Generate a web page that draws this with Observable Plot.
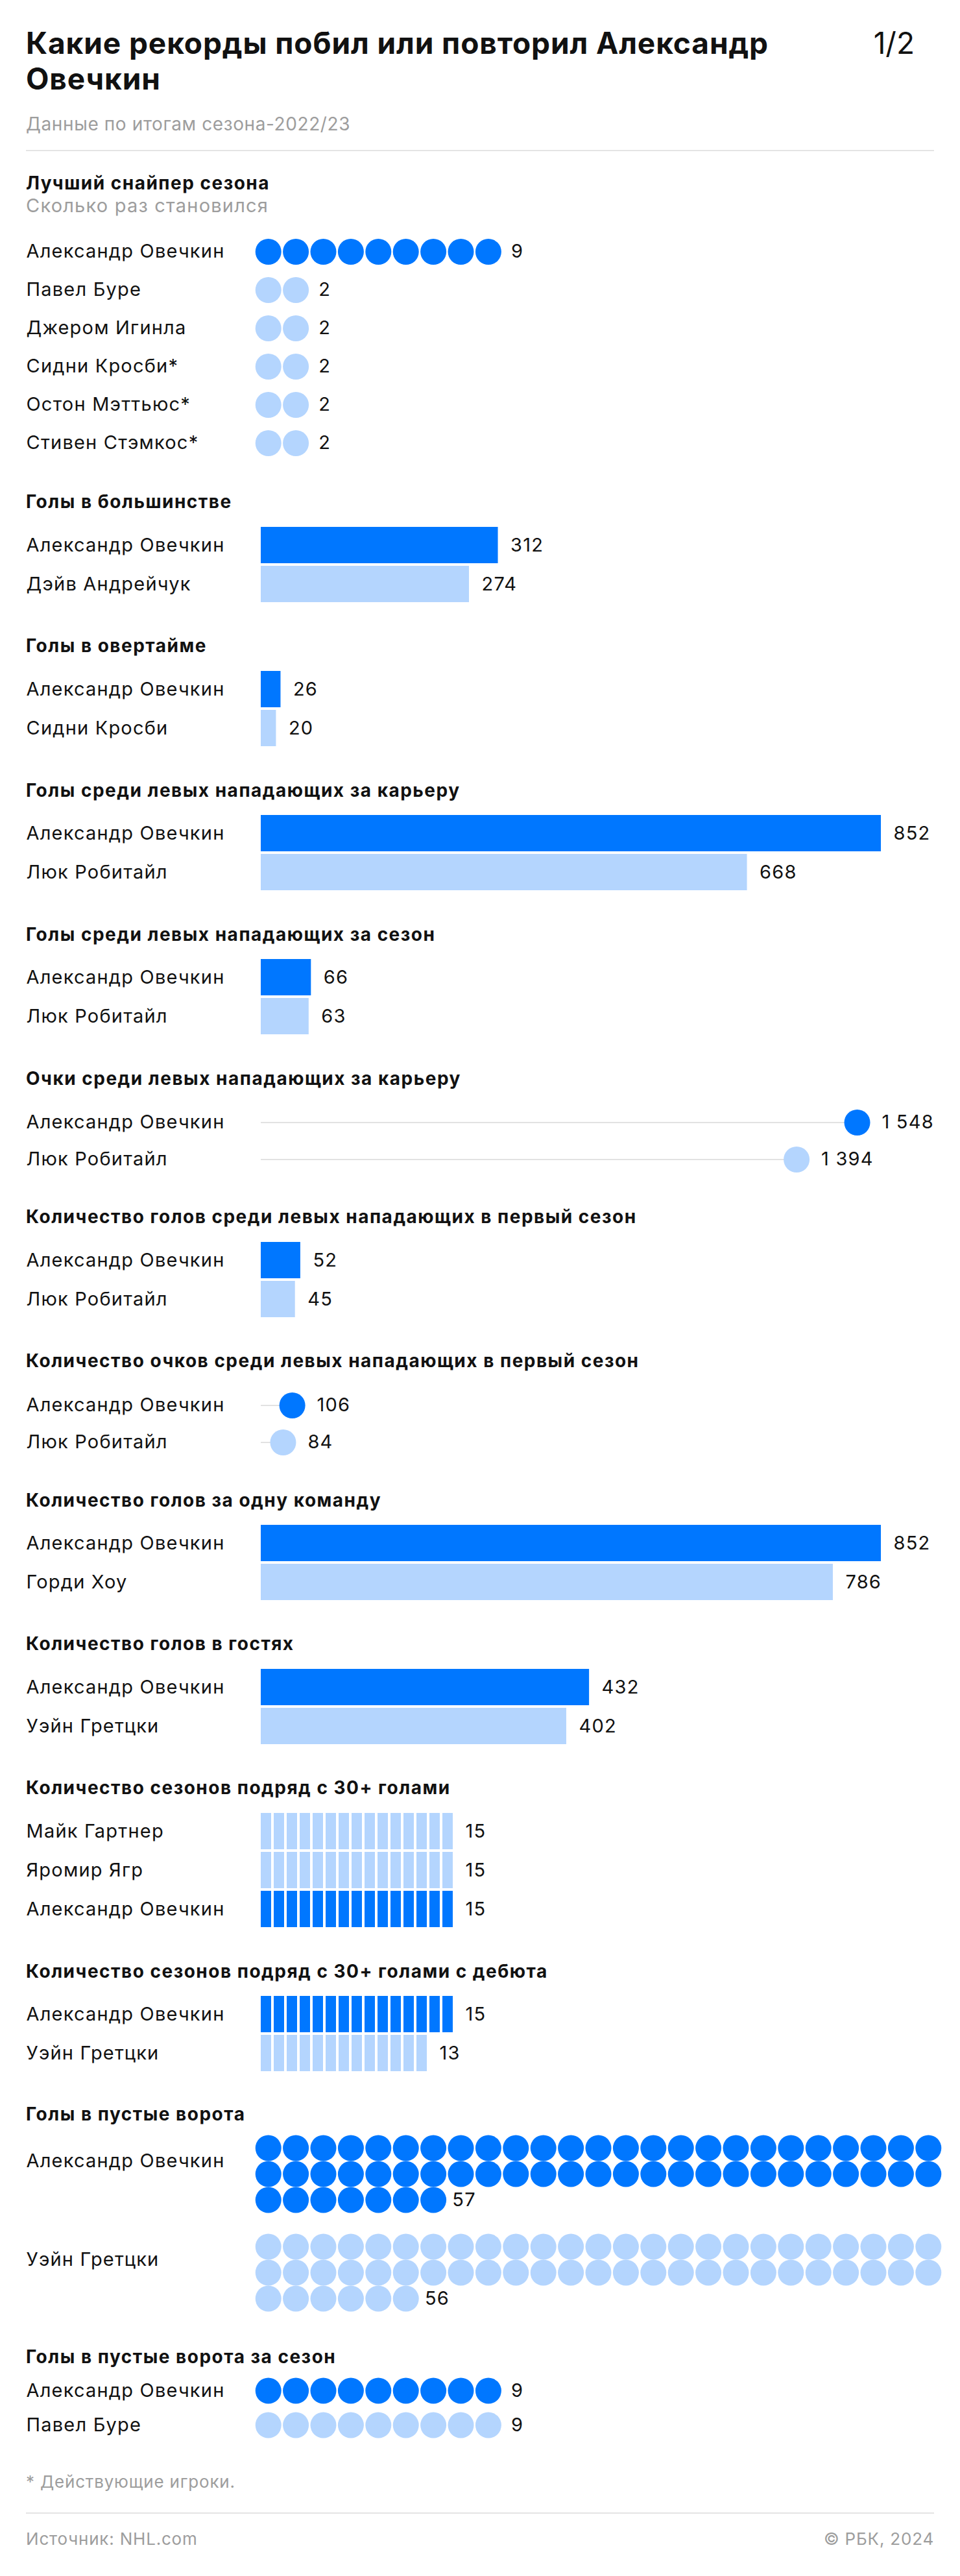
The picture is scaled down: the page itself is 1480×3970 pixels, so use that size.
<!DOCTYPE html>
<html>
<head>
<meta charset="utf-8">
<script src="https://cdn.jsdelivr.net/npm/d3@7"></script>
<script src="https://cdn.jsdelivr.net/npm/@observablehq/plot@0.6"></script>
<style>
  html, body { margin: 0; padding: 0; background: #fff; }
  #page { position: relative; width: 1480px; height: 3970px; overflow: hidden;
          font-family: Inter, "Noto Sans", sans-serif; color: #111; }
  .t { position: absolute; left: 40px; white-space: nowrap; line-height: 1; margin: 0; }
  .title { font-size: 46px; font-weight: 700; line-height: 55px; letter-spacing: 0.9px; }
  .pager { left: auto; right: 70px; font-size: 46px; font-weight: 400; line-height: 55px; }
  .gray { font-size: 28px; color: #9d9d9d; letter-spacing: 0.6px; }
  .gray2 { font-size: 29px; color: #9d9d9d; letter-spacing: 1.2px; }
  .head { font-size: 28px; font-weight: 700; letter-spacing: 1.5px; }
  .small { font-size: 26px; color: #9d9d9d; letter-spacing: 0.8px; }
  .rule { position: absolute; left: 40px; width: 1400px; height: 2px; background: #e4e4e4; }
  #page svg { position: absolute; left: 0; }
</style>
</head>
<body>
<div id="page"></div>
<script>
// ---------------- data ----------------
const HERO = "Александр Овечкин";

const sniperNames = ["Александр Овечкин", "Павел Буре", "Джером Игинла", "Сидни Кросби*", "Остон Мэттьюс*", "Стивен Стэмкос*"];
const sniperTimes = [9, 2, 2, 2, 2, 2];

const ppNames = ["Александр Овечкин", "Дэйв Андрейчук"];
const ppGoals = [312, 274];

const otNames = ["Александр Овечкин", "Сидни Кросби"];
const otGoals = [26, 20];

const lwNames = ["Александр Овечкин", "Люк Робитайл"];
const lwCareerGoals = [852, 668];
const lwSeasonGoals = [66, 63];
const lwCareerPoints = [1548, 1394];
const lwRookieGoals = [52, 45];
const lwRookiePoints = [106, 84];

const oneTeamNames = ["Александр Овечкин", "Горди Хоу"];
const oneTeamGoals = [852, 786];

const awayNames = ["Александр Овечкин", "Уэйн Гретцки"];
const awayGoals = [432, 402];

const streakNames = ["Майк Гартнер", "Яромир Ягр", "Александр Овечкин"];
const streakSeasons = [15, 15, 15];

const debutNames = ["Александр Овечкин", "Уэйн Гретцки"];
const debutSeasons = [15, 13];

const enNames = ["Александр Овечкин", "Уэйн Гретцки"];
const enGoals = [57, 56];

const enSeasonNames = ["Александр Овечкин", "Павел Буре"];
const enSeasonGoals = [9, 9];

// ---------------- style ----------------
const DARK = "#0077FF", LIGHT = "#B4D5FE", GRID = "#E2E2E2", INK = "#111";
const FONT = "Inter, 'Noto Sans', sans-serif";
const NAME_SIZE = 29;
const BAR_RANGE = [402, 1358];          // bar / lollipop x range
const DOT_RANGE = [392, 392 + 25 * 42.4]; // 25 unit dots per row
const SEG_RANGE = [402, 402 + 48 * 20];   // unit segments
const fmt = d3.formatLocale({decimal: ",", thousands: "\u00A0", grouping: [3], currency: ["", ""]}).format(",d");
const colorOf = d => d.name === HERO ? DARK : LIGHT;

const page = document.getElementById("page");

function text(str, cls, baseline, size, lineH) {
  const el = document.createElement("div");
  el.className = "t " + cls;
  el.textContent = str;
  const lh = lineH || size;
  // Inter metrics: ascent 0.96875, descent 0.2422
  const off = (lh - 1.2109 * size) / 2 + 0.96875 * size;
  el.style.top = (baseline - off) + "px";
  page.appendChild(el);
  return el;
}
function hr(y) {
  const el = document.createElement("div");
  el.className = "rule";
  el.style.top = (y - 1) + "px";
  page.appendChild(el);
}
function put(svg, top) { svg.style.top = top + "px"; page.appendChild(svg); }

function rowsOf(names, values) { return names.map((name, i) => ({name, value: values[i]})); }

function base(height, x, y, marks) {
  return Plot.plot({
    width: 1480, height, margin: 0,
    x: {...x, axis: null},
    y: {...y, axis: null},
    color: {type: "identity"},
    style: {fontFamily: FONT, background: "transparent", overflow: "visible", maxWidth: "none", letterSpacing: "1.2px"},
    marks
  });
}
const nameMark = (rows, extra = {}) => Plot.text(rows, {y: "name", text: "name", frameAnchor: "left", dx: 40,
  textAnchor: "start", fontSize: NAME_SIZE, fill: INK, ...extra});

// bar section
function barSection(names, values, domainMax, top) {
  const rows = rowsOf(names, values), n = rows.length;
  put(base(n * 60, {domain: [0, domainMax], range: BAR_RANGE},
    {type: "band", domain: names, range: [0, n * 60], paddingInner: 4 / 60, paddingOuter: 2 / 60}, [
      Plot.barX(rows, {x: "value", y: "name", fill: colorOf}),
      Plot.text(rows, {x: "value", y: "name", text: d => fmt(d.value), textAnchor: "start", dx: 19, fontSize: NAME_SIZE, fill: INK}),
      nameMark(rows)
    ]), top);
}
// lollipop section
function lollySection(names, values, domainMax, top) {
  const rows = rowsOf(names, values), n = rows.length;
  put(base(n * 60, {domain: [0, domainMax], range: BAR_RANGE},
    {type: "band", domain: names, range: [0, n * 60]}, [
      Plot.ruleY(rows, {y: "name", x1: 0, x2: "value", stroke: GRID, strokeWidth: 2}),
      Plot.dot(rows, {x: "value", y: "name", r: 20, dx: -20, fill: colorOf, stroke: null}),
      Plot.text(rows, {x: "value", y: "name", text: d => fmt(d.value), textAnchor: "start", dx: 18, fontSize: NAME_SIZE, fill: INK}),
      nameMark(rows)
    ]), top);
}
// unit dots, one row per player
function dotSection(names, values, step, top) {
  const rows = rowsOf(names, values), n = rows.length;
  const units = rows.flatMap(d => d3.range(d.value).map(i => ({name: d.name, col: i})));
  put(base(n * step, {domain: [0, 25], range: DOT_RANGE},
    {type: "band", domain: names, range: [0, n * step]}, [
      Plot.dot(units, {x: d => d.col + 0.5, y: "name", r: 20, fill: colorOf, stroke: null}),
      Plot.text(rows, {x: "value", y: "name", text: d => fmt(d.value), textAnchor: "start", dx: 14, fontSize: NAME_SIZE, fill: INK}),
      nameMark(rows)
    ]), top);
}
// unit dots, wrapped 25 per row, one plot per player
function wrappedDots(name, value, top) {
  const units = d3.range(value).map(i => ({name, col: i % 25, row: Math.floor(i / 25)}));
  const nRows = Math.ceil(value / 25);
  const last = [{name, value, row: nRows - 1, rest: value - (nRows - 1) * 25}];
  put(base(nRows * 42, {domain: [0, 25], range: DOT_RANGE},
    {type: "band", domain: d3.range(nRows), range: [0, nRows * 42]}, [
      Plot.dot(units, {x: d => d.col + 0.5, y: "row", r: 20, fill: colorOf, stroke: null}),
      Plot.text(last, {x: "rest", y: "row", text: d => fmt(d.value), textAnchor: "start", dx: 8, fontSize: NAME_SIZE, fill: INK}),
      Plot.text([{name, row: 0}], {y: "row", text: "name", frameAnchor: "left", dx: 40, dy: 20,
        textAnchor: "start", fontSize: NAME_SIZE, fill: INK})
    ]), top);
}
// unit segments
function segSection(names, values, top) {
  const rows = rowsOf(names, values), n = rows.length;
  const units = rows.flatMap(d => d3.range(d.value).map(i => ({name: d.name, i})));
  put(base(n * 60, {domain: [0, 48], range: SEG_RANGE},
    {type: "band", domain: names, range: [0, n * 60], paddingInner: 4 / 60, paddingOuter: 2 / 60}, [
      Plot.barX(units, {x1: "i", x2: d => d.i + 1, y: "name", fill: colorOf, insetRight: 4}),
      Plot.text(rows, {x: "value", y: "name", text: d => fmt(d.value), textAnchor: "start", dx: 15, fontSize: NAME_SIZE, fill: INK}),
      nameMark(rows)
    ]), top);
}

// ---------------- header ----------------
const title = text("", "title", 83, 46, 55);
title.innerHTML = "Какие рекорды побил или повторил Александр<br>Овечкин";
text("1/2", "pager", 83, 46, 55);
text("Данные по итогам сезона-2022/23", "gray", 201, 28);
hr(232);

// ---------------- sections ----------------
text("Лучший снайпер сезона", "head", 292, 28);
text("Сколько раз становился", "gray2", 327, 29);
dotSection(sniperNames, sniperTimes, 60, 355);

text("Голы в большинстве", "head", 783, 28);
barSection(ppNames, ppGoals, 816, 810);

text("Голы в овертайме", "head", 1005, 28);
barSection(otNames, otGoals, 816, 1032);

text("Голы среди левых нападающих за карьеру", "head", 1228, 28);
barSection(lwNames, lwCareerGoals, 852, 1254);

text("Голы среди левых нападающих за сезон", "head", 1450, 28);
barSection(lwNames, lwSeasonGoals, 816, 1476);

text("Очки среди левых нападающих за карьеру", "head", 1672, 28);
lollySection(lwNames, lwCareerPoints, 1576, 1698);

text("Количество голов среди левых нападающих в первый сезон", "head", 1885, 28);
barSection(lwNames, lwRookieGoals, 816, 1912);

text("Количество очков среди левых нападающих в первый сезон", "head", 2107, 28);
lollySection(lwNames, lwRookiePoints, 1488, 2134);

text("Количество голов за одну команду", "head", 2322, 28);
barSection(oneTeamNames, oneTeamGoals, 852, 2348);

text("Количество голов в гостях", "head", 2543, 28);
barSection(awayNames, awayGoals, 816, 2570);

text("Количество сезонов подряд с 30+ голами", "head", 2765, 28);
segSection(streakNames, streakSeasons, 2792);

text("Количество сезонов подряд с 30+ голами с дебюта", "head", 3048, 28);
segSection(debutNames, debutSeasons, 3074);

text("Голы в пустые ворота", "head", 3268, 28);
wrappedDots(enNames[0], enGoals[0], 3287);
wrappedDots(enNames[1], enGoals[1], 3439);

text("Голы в пустые ворота за сезон", "head", 3642, 28);
dotSection(enSeasonNames, enSeasonGoals, 56, 3654);

// ---------------- footer ----------------
text("* Действующие игроки.", "small", 3834, 26);
hr(3873);
text("Источник: NHL.com", "small", 3922, 26);
const copy = text("© РБК, 2024", "small", 3922, 26);
copy.style.left = "auto"; copy.style.right = "40px";
</script>
</body>
</html>
